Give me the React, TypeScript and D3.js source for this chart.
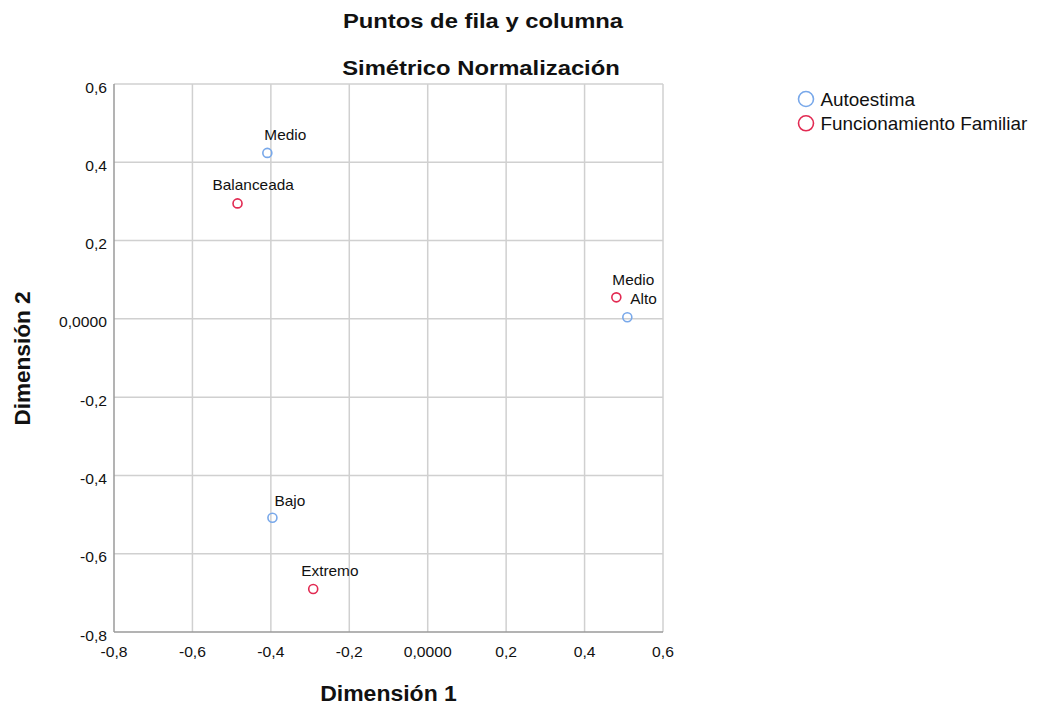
import * as d3 from "d3";
import React, { useEffect, useRef } from "react";

// Autoestima (row points)
const autoLabels = ["Medio", "Alto", "Bajo"];
const autoX = [-0.409, 0.509, -0.396];
const autoY = [0.424, 0.004, -0.508];

// Funcionamiento Familiar (column points)
const famLabels = ["Balanceada", "Medio", "Extremo"];
const famX = [-0.485, 0.481, -0.292];
const famY = [0.295, 0.055, -0.69];

const xTicks = [-0.8, -0.6, -0.4, -0.2, 0, 0.2, 0.4, 0.6];
const yTicks = [-0.8, -0.6, -0.4, -0.2, 0, 0.2, 0.4, 0.6];

const seriesNames = ["Autoestima", "Funcionamiento Familiar"];
const seriesColors = ["#78a8ea", "#e22a52"];

const fmt = (v: number) =>
  Math.abs(v) < 1e-9 ? "0,0000" : d3.format(".1f")(v).replace(".", ",").replace("−", "-");

const App: React.FC = () => {
  const svgRef = useRef<SVGSVGElement | null>(null);

  useEffect(() => {
    if (!svgRef.current) return;
    const svg = d3.select(svgRef.current);
    svg.selectAll("*").remove();

    const width = 1048;
    const height = 709;
    const margin = { top: 84, right: 385, bottom: 77, left: 114 };
    const font = "'Liberation Sans', Arial, sans-serif";

    const x = d3
      .scaleLinear()
      .domain([-0.8, 0.6])
      .range([margin.left, width - margin.right]);
    const y = d3
      .scaleLinear()
      .domain([-0.8, 0.6])
      .range([height - margin.bottom, margin.top]);

    svg.attr("font-family", font);

    // text helper: the source font renders a bit wider than Arial
    const label = (
      g: d3.Selection<any, unknown, null, undefined>,
      tx: number,
      ty: number,
      txt: string,
      size: number,
      sx: number,
      anchor = "start",
      bold = false,
      rotate = 0
    ) =>
      g
        .append("text")
        .attr(
          "transform",
          `translate(${tx},${ty})${rotate ? ` rotate(${rotate})` : ""} scale(${sx},1)`
        )
        .attr("text-anchor", anchor)
        .attr("font-size", `${size}px`)
        .attr("font-weight", bold ? "bold" : "normal")
        .attr("fill", "#111")
        .text(txt);

    // gridlines
    svg
      .append("g")
      .selectAll("line")
      .data(xTicks.slice(1))
      .enter()
      .append("line")
      .attr("x1", (d) => x(d))
      .attr("x2", (d) => x(d))
      .attr("y1", y(-0.8))
      .attr("y2", y(0.6))
      .attr("stroke", "#d0d0d0")
      .attr("stroke-width", 1.5);

    svg
      .append("g")
      .selectAll("line")
      .data(yTicks.slice(1))
      .enter()
      .append("line")
      .attr("x1", x(-0.8))
      .attr("x2", x(0.6))
      .attr("y1", (d) => y(d))
      .attr("y2", (d) => y(d))
      .attr("stroke", "#d0d0d0")
      .attr("stroke-width", 1.5);

    // axis lines
    svg
      .append("line")
      .attr("x1", x(-0.8))
      .attr("x2", x(-0.8))
      .attr("y1", y(0.6))
      .attr("y2", y(-0.8))
      .attr("stroke", "#9a9a9a")
      .attr("stroke-width", 1.5);
    svg
      .append("line")
      .attr("x1", x(-0.8))
      .attr("x2", x(0.6))
      .attr("y1", y(-0.8))
      .attr("y2", y(-0.8))
      .attr("stroke", "#9a9a9a")
      .attr("stroke-width", 1.5);

    // tick labels
    const ticksG = svg.append("g");
    xTicks.forEach((t) => label(ticksG, x(t), y(-0.8) + 25, fmt(t), 14, 1.12, "middle"));
    yTicks.forEach((t) => label(ticksG, x(-0.8) - 7, y(t) + 8.5, fmt(t), 14, 1.12, "end"));

    // titles
    label(svg, 483, 28, "Puntos de fila y columna", 20, 1.19, "middle", true);
    label(svg, 481, 75, "Simétrico Normalización", 20, 1.19, "middle", true);
    label(svg, (x(-0.8) + x(0.6)) / 2, 701, "Dimensión 1", 21.5, 1.07, "middle", true);
    label(svg, 30, 358.5, "Dimensión 2", 21.5, 1.05, "middle", true, -90);

    // points
    const series = [
      { labels: autoLabels, xs: autoX, ys: autoY, dx: [-3, 3, 2], dy: [-12.6, -13.4, -12] },
      { labels: famLabels, xs: famX, ys: famY, dx: [-25, -4, -12], dy: [-13, -12.7, -13] },
    ];
    series.forEach((s, si) => {
      const pts = s.labels.map((l, i) => ({ l, x: s.xs[i], y: s.ys[i], dx: s.dx[i], dy: s.dy[i] }));
      const g = svg.append("g");
      g.selectAll("circle")
        .data(pts)
        .enter()
        .append("circle")
        .attr("cx", (d) => x(d.x))
        .attr("cy", (d) => y(d.y))
        .attr("r", 4.5)
        .attr("fill", "none")
        .attr("stroke", seriesColors[si])
        .attr("stroke-width", 1.6);
      pts.forEach((d) => label(g, x(d.x) + d.dx, y(d.y) + d.dy, d.l, 14, 1.1));
    });

    // legend
    const legend = svg.append("g");
    seriesNames.forEach((n, i) => {
      legend
        .append("circle")
        .attr("cx", 806)
        .attr("cy", 99 + i * 24.3)
        .attr("r", 7.5)
        .attr("fill", "none")
        .attr("stroke", seriesColors[i])
        .attr("stroke-width", 1.6);
      label(legend, 820.5, 106 + i * 24.3, n, 17.5, 1.08);
    });
  }, []);

  return (
    <div style={{ position: "absolute", left: 0, top: 0, background: "#fff" }}>
      <svg ref={svgRef} width={1048} height={709}></svg>
    </div>
  );
};

export default App;
